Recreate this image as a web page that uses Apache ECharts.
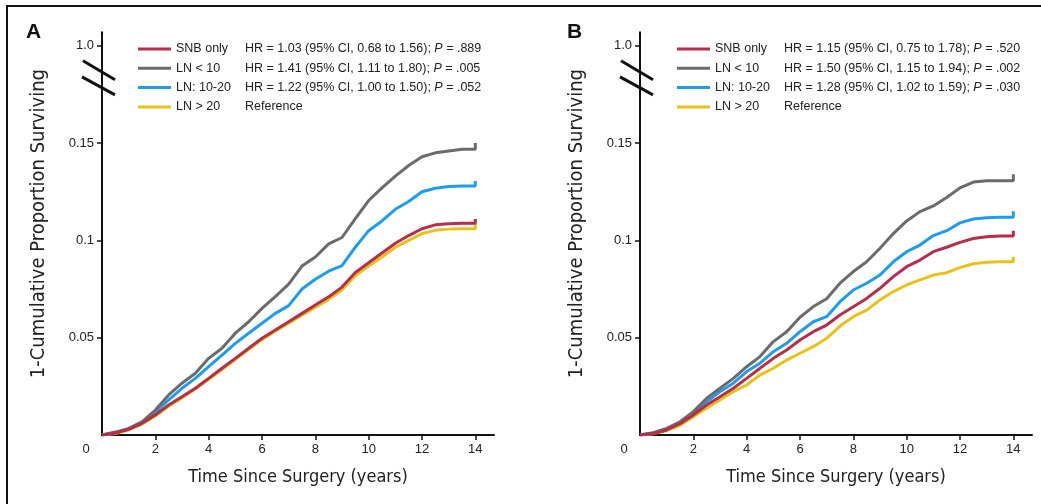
<!DOCTYPE html>
<html><head><meta charset="utf-8">
<script src="https://cdn.jsdelivr.net/npm/echarts@6/dist/echarts.min.js"></script>
<style>html,body{margin:0;padding:0;background:#fff}#c{width:1041px;height:504px}</style>
</head><body><div id="c"></div>
<script>
// ---------- data ----------
const years = [0,0.5,1,1.5,2,2.5,3,3.5,4,4.5,5,5.5,6,6.5,7,7.5,8,8.5,9,9.5,10,10.5,11,11.5,12,12.5,13,13.5,14];
const seriesNames = ['SNB only','LN < 10','LN: 10-20','LN > 20'];
const seriesColors = ['#b52f4d','#6b6b6b','#1f9cf0','#e8c21a'];

// Panel A (1 - cumulative proportion surviving)
const snbA  = [0,0.0010,0.0029,0.0060,0.0103,0.0154,0.0197,0.0240,0.0291,0.0343,0.0394,0.0446,0.0497,0.0540,0.0582,0.0625,0.0668,0.0710,0.0760,0.0835,0.0885,0.0935,0.0985,0.1025,0.1060,0.1080,0.1085,0.1088,0.1088];
const lt10A = [0,0.0015,0.0034,0.0068,0.0128,0.0206,0.0266,0.0317,0.0394,0.0446,0.0523,0.0582,0.0651,0.0711,0.0775,0.0868,0.0915,0.0982,0.1015,0.1112,0.1205,0.1270,0.1330,0.1385,0.1430,0.1450,0.1460,0.1468,0.1468];
const midA  = [0,0.0012,0.0030,0.0062,0.0118,0.0180,0.0240,0.0291,0.0351,0.0411,0.0471,0.0523,0.0574,0.0625,0.0665,0.0750,0.0800,0.0842,0.0870,0.0965,0.1050,0.1100,0.1160,0.1200,0.1250,0.1268,0.1277,0.1280,0.1280];
const gt20A = [0,0.0008,0.0026,0.0056,0.0098,0.0148,0.0192,0.0236,0.0286,0.0337,0.0388,0.0440,0.0490,0.0533,0.0575,0.0615,0.0655,0.0697,0.0745,0.0818,0.0868,0.0915,0.0965,0.1000,0.1035,0.1052,0.1058,0.1060,0.1060];
const lastTickA = [0.1110,0.1500,0.1305,0.1085];   // final vertical tick at 14 y

// Panel B
const snbB  = [0,0.0008,0.0026,0.0058,0.0103,0.0154,0.0197,0.0240,0.0291,0.0343,0.0394,0.0437,0.0488,0.0531,0.0565,0.0617,0.0659,0.0702,0.0754,0.0814,0.0865,0.0899,0.0942,0.0965,0.0990,0.1010,0.1019,0.1023,0.1023];
const lt10B = [0,0.0012,0.0034,0.0068,0.0120,0.0189,0.0240,0.0291,0.0351,0.0403,0.0480,0.0531,0.0605,0.0660,0.0700,0.0780,0.0840,0.0890,0.0960,0.1035,0.1100,0.1148,0.1177,0.1221,0.1270,0.1300,0.1307,0.1307,0.1307];
const midB  = [0,0.0010,0.0030,0.0062,0.0110,0.0171,0.0223,0.0266,0.0326,0.0369,0.0428,0.0471,0.0531,0.0582,0.0608,0.0685,0.0745,0.0780,0.0822,0.0890,0.0942,0.0976,0.1025,0.1050,0.1090,0.1110,0.1117,0.1119,0.1119];
const gt20B = [0,0.0007,0.0022,0.0050,0.0094,0.0137,0.0180,0.0223,0.0257,0.0308,0.0343,0.0385,0.0420,0.0454,0.0497,0.0560,0.0608,0.0642,0.0694,0.0737,0.0771,0.0797,0.0822,0.0834,0.0860,0.0880,0.0888,0.0890,0.0890];
const lastTickB = [0.1050,0.1340,0.1150,0.0916];

// legend annotation text
const hrA = ['HR = 1.03 (95% CI, 0.68 to 1.56); ','HR = 1.41 (95% CI, 1.11 to 1.80); ','HR = 1.22 (95% CI, 1.00 to 1.50); ','Reference'];
const pA  = ['.889','.005','.052',null];
const hrB = ['HR = 1.15 (95% CI, 0.75 to 1.78); ','HR = 1.50 (95% CI, 1.15 to 1.94); ','HR = 1.28 (95% CI, 1.02 to 1.59); ','Reference'];
const pB  = ['.520','.002','.030',null];

// axis ticks
const xTickLabels = [0,2,4,6,8,10,12,14];
const xTicks = [2,4,6,8,10,12,14];
const yTicks = [0.05,0.1,0.15,0.2];
const yTickText = ['0.05','0.1','0.15','1.0'];
const xTitle = 'Time Since Surgery (years)';
const yTitle = '1-Cumulative Proportion Surviving';
const panelLabels = ['A','B'];

// ---------- chart ----------
const chart = echarts.init(document.getElementById('c'), null, {renderer:'canvas'});
const FONT = "'Liberation Sans', Arial, Helvetica, sans-serif";
const NARROW = "'Liberation Sans Narrow', 'DejaVu Sans Condensed', 'Liberation Sans', sans-serif";

const gridsLeft = [102, 640];
function mkX(i){
  return {
    type:'value', gridIndex:i, min:0, max:14.7,
    axisLine:{show:true, onZero:false, lineStyle:{color:'#111', width:2}},
    splitLine:{show:false},
    axisTick:{show:true, length:5, lineStyle:{color:'#111', width:1.5}, customValues:xTicks},
    axisLabel:{customValues:xTickLabels, margin:8, color:'#222', fontSize:13, fontFamily:FONT,
      formatter:v => v===0 ? '{o|0}' : String(v),
      rich:{o:{padding:[0,32,0,0], fontSize:13, fontFamily:FONT, color:'#222'}}},
    name:xTitle, nameLocation:'middle', nameGap:33,
    nameTextStyle:{fontSize:18, fontFamily:NARROW, color:'#222'}
  };
}
function mkY(i){
  return {
    type:'value', gridIndex:i, min:0, max:0.207,
    axisLine:{show:true, lineStyle:{color:'#111', width:2}},
    splitLine:{show:false},
    axisTick:{show:true, length:5, lineStyle:{color:'#111', width:1.5}, customValues:yTicks},
    axisLabel:{customValues:yTicks, margin:8, color:'#222', fontSize:13, fontFamily:FONT,
      formatter:v => { const k = yTicks.findIndex(t => Math.abs(t-v)<1e-9); return k>=0 ? yTickText[k] : ''; }},
    name:yTitle, nameLocation:'middle', nameGap:53,
    nameTextStyle:{fontSize:20, fontFamily:NARROW, color:'#222', padding:[0,0,0,20]}
  };
}
function mkSeries(i, arrs, ticks){
  return arrs.map((vals, k) => ({
    type:'line', name:seriesNames[k], xAxisIndex:i, yAxisIndex:i,
    data: years.map((t, j) => [t, vals[j]]).concat([[years[years.length-1], ticks[k]]]),
    showSymbol:false, symbol:'none', color:seriesColors[k],
    lineStyle:{width:3, color:seriesColors[k]}, z: 10 - k, animation:false
  }));
}
function mkLegend(left, hr, p){
  return {
    orient:'vertical', left:left, top:37, itemWidth:33, itemHeight:3, itemGap:5.3, icon:'rect',
    data:seriesNames, selectedMode:false,
    formatter: name => {
      const k = seriesNames.indexOf(name);
      let s = '{n|' + name + '}{h|' + hr[k] + '}';
      if (p[k]) s += '{p|P}{h| = ' + p[k] + '}';
      return s;
    },
    textStyle:{fontSize:12.5, fontFamily:FONT, color:'#222', lineHeight:14,
      rich:{
        n:{width:69, fontSize:12.5, fontFamily:FONT, color:'#222', lineHeight:14},
        h:{fontSize:12.5, fontFamily:FONT, color:'#222', lineHeight:14},
        p:{fontSize:12.5, fontFamily:FONT, color:'#222', fontStyle:'italic', lineHeight:14}
      }}
  };
}

const option = {
  backgroundColor:'#fff',
  animation:false,
  title: panelLabels.map((t, i) => ({text:t, left: i===0 ? 21 : 562, top:17,
    textStyle:{fontSize:21, fontWeight:'bold', fontFamily:FONT, color:'#111'}})),
  grid:[
    {left:gridsLeft[0], width:392, top:32.2, bottom:69, containLabel:false},
    {left:gridsLeft[1], width:392, top:32.2, bottom:69, containLabel:false}
  ],
  xAxis:[mkX(0), mkX(1)],
  yAxis:[mkY(0), mkY(1)],
  legend:[mkLegend(133, hrA, pA), mkLegend(672, hrB, pB)],
  series: mkSeries(0, [snbA, lt10A, midA, gt20A], lastTickA)
          .concat(mkSeries(1, [snbB, lt10B, midB, gt20B], lastTickB))
};
chart.setOption(option);

// frame and axis-break marks
const gfx = [
  {type:'polyline', shape:{points:[[7,504],[7,6],[1041,6]]}, style:{stroke:'#111', lineWidth:2, fill:null}, silent:true}
];
[0,1].forEach(i => {
  const p = chart.convertToPixel({gridIndex:i}, [0, 0.2]);
  const x = p[0], y = p[1];
  gfx.push({type:'line', shape:{x1:x-19, y1:y+15, x2:x+13, y2:y+34}, style:{stroke:'#111', lineWidth:3}, silent:true});
  gfx.push({type:'line', shape:{x1:x-20, y1:y+31, x2:x+13, y2:y+49}, style:{stroke:'#111', lineWidth:3}, silent:true});
});
chart.setOption({graphic: gfx});
</script>
</body></html>
